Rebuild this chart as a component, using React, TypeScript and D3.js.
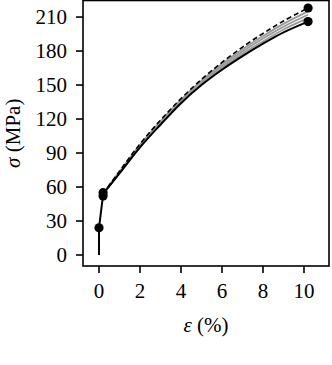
import React from "react";
import * as d3 from "d3";

const strain = [0.2, 1, 2, 3, 4, 5, 6, 7, 8, 9, 10.2];
const solidStress = [54, 72, 95, 115, 134, 150, 163.5, 175.5, 186.5, 196.5, 206];
const gray1Stress = [54, 72.5, 95.8, 116, 135, 151.2, 165, 177.5, 188.5, 199, 209];
const gray2Stress = [54, 73, 96.5, 117, 136, 152.5, 166.8, 179.5, 191, 201.5, 212];
const gray3Stress = [54, 73.5, 97.2, 118, 137, 153.8, 168.5, 181.5, 193.2, 204, 215];
const dashedStress = [54, 74, 98, 119, 138, 155, 170, 183.5, 195.5, 206.5, 218];

const initStrain = [0, 0, 0.2];
const initStress = [0, 24, 53];

const markerStrain = [0, 0.2, 0.2, 10.2, 10.2];
const markerStress = [24, 52, 55, 206, 218];

const xTicks = [0, 2, 4, 6, 8, 10];
const yTicks = [0, 30, 60, 90, 120, 150, 180, 210];

const FONT = "'Liberation Serif', 'DejaVu Serif', serif";

export default function App() {
  const left = 83, right = 329, top = 0.5, bottom = 266;
  const x = d3.scaleLinear().domain([-0.78, 11.22]).range([left, right]);
  const y = d3.scaleLinear().domain([-9.7, 224.6]).range([bottom, top]);

  const line = d3
    .line<number>()
    .x((_, i) => x(strain[i]))
    .y((d) => y(d))
    .curve(d3.curveCatmullRom.alpha(0.5));

  const initLine = d3
    .line<number>()
    .x((_, i) => x(initStrain[i]))
    .y((d) => y(d));

  return (
    <div style={{ position: "absolute", left: 0, top: 0 }}>
      <svg width={332} height={365} style={{ display: "block" }}>
        <rect x={0} y={0} width={332} height={365} fill="white" />
        {[gray1Stress, gray2Stress, gray3Stress].map((s, k) => (
          <path key={k} d={line(s) || ""} fill="none" stroke="#999" strokeWidth={1.8} />
        ))}
        <path d={line(solidStress) || ""} fill="none" stroke="black" strokeWidth={2} />
        <path
          d={line(dashedStress) || ""}
          fill="none"
          stroke="black"
          strokeWidth={1.6}
          strokeDasharray="5,3"
        />
        <path d={initLine(initStress) || ""} fill="none" stroke="black" strokeWidth={2} />
        {markerStress.map((s, i) => (
          <circle key={i} cx={x(markerStrain[i])} cy={y(s)} r={4.6} fill="black" />
        ))}
        <rect
          x={left}
          y={top}
          width={right - left}
          height={bottom - top}
          fill="none"
          stroke="black"
          strokeWidth={1.6}
        />
        {xTicks.map((t) => (
          <g key={t} transform={`translate(${x(t)},${bottom})`}>
            <line y1={0} y2={7} stroke="black" strokeWidth={1.6} />
            <text y={32} textAnchor="middle" fontFamily={FONT} fontSize={21} fill="black">
              {t}
            </text>
          </g>
        ))}
        {yTicks.map((t) => (
          <g key={t} transform={`translate(${left},${y(t)})`}>
            <line x1={0} x2={-7} stroke="black" strokeWidth={1.6} />
            <text
              x={-16}
              dy="0.35em"
              textAnchor="end"
              fontFamily={FONT}
              fontSize={21}
              fill="black"
            >
              {t}
            </text>
          </g>
        ))}
        <text
          x={(left + right) / 2}
          y={332}
          textAnchor="middle"
          fontFamily={FONT}
          fontSize={21}
          fill="black"
        >
          <tspan fontStyle="italic">ε</tspan> (%)
        </text>
        <text
          transform={`translate(20,${(top + bottom) / 2}) rotate(-90)`}
          textAnchor="middle"
          fontFamily={FONT}
          fontSize={21}
          fill="black"
        >
          <tspan fontStyle="italic">σ</tspan> (MPa)
        </text>
      </svg>
    </div>
  );
}
